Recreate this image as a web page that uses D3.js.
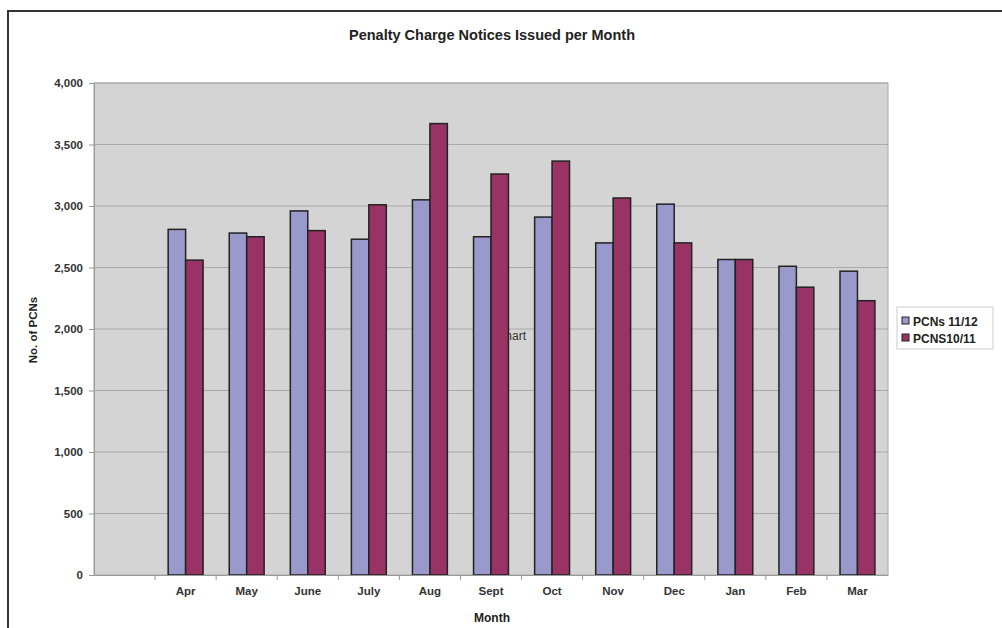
<!DOCTYPE html>
<html>
<head>
<meta charset="utf-8">
<script src="https://cdn.jsdelivr.net/npm/d3@7"></script>
<style>
  body { margin: 0; background: #fff; }
  svg text { font-family: "Liberation Sans", Arial, sans-serif; }
</style>
</head>
<body>
<svg id="chart" width="1002" height="628"></svg>
<script>
// categories (first slot is empty in the original chart)
const months = ['', 'Apr', 'May', 'June', 'July', 'Aug', 'Sept', 'Oct', 'Nov', 'Dec', 'Jan', 'Feb', 'Mar'];
const seriesNames = ['PCNs 11/12', 'PCNS10/11'];
const pcns1112 = [null, 2810, 2780, 2960, 2730, 3050, 2750, 2910, 2700, 3015, 2565, 2510, 2470];
const pcns1011 = [null, 2560, 2750, 2800, 3010, 3670, 3260, 3365, 3065, 2700, 2565, 2340, 2230];
const yTicks = [0, 500, 1000, 1500, 2000, 2500, 3000, 3500, 4000];
const colors = ['#9999cc', '#993366'];

const svg = d3.select('#chart');

// outer frame
svg.append('path')
  .attr('d', 'M8,628 L8,11 L1002,11')
  .attr('fill', 'none')
  .attr('stroke', '#333')
  .attr('stroke-width', 2);

const plotL = 94, plotR = 888, plotT = 83, plotB = 575;

let x = d3.scaleBand().domain(months.map((m, i) => i)).range([plotL, plotR]).paddingInner(0).paddingOuter(0);
let y = d3.scaleLinear().domain([0, 4000]).range([plotB, plotT]);

// plot background
svg.append('rect')
  .attr('x', plotL).attr('y', plotT)
  .attr('width', plotR - plotL).attr('height', plotB - plotT)
  .attr('fill', '#d4d4d4')
  .attr('stroke', '#aaa');

// gridlines
svg.append('g').selectAll('line').data(yTicks.slice(1))
  .enter().append('line')
  .attr('x1', plotL).attr('x2', plotR)
  .attr('y1', d => y(d)).attr('y2', d => y(d))
  .attr('stroke', '#a9a9a9').attr('stroke-width', 1);

// stray "Chart" text partly hidden behind bars
svg.append('text')
  .attr('x', 526).attr('y', 340)
  .attr('text-anchor', 'end')
  .attr('font-size', 12)
  .attr('fill', '#333')
  .text('Chart');

// bars
const barW = x.bandwidth() / 3.5;
const data = [pcns1112, pcns1011];
data.forEach((vals, s) => {
  svg.append('g').selectAll('rect').data(vals.map((v, i) => ({ v, i })).filter(d => d.v != null))
    .enter().append('rect')
    .attr('x', d => x(d.i) + x.bandwidth() / 2 - barW + s * barW)
    .attr('y', d => y(d.v))
    .attr('width', barW)
    .attr('height', d => y(0) - y(d.v))
    .attr('fill', colors[s])
    .attr('stroke', '#222')
    .attr('stroke-width', 1.5);
});

// y axis
const yAxis = svg.append('g')
  .attr('transform', `translate(${plotL},0)`)
  .call(d3.axisLeft(y).tickValues(yTicks).tickSize(5).tickPadding(6).tickFormat(d3.format(',')));
yAxis.select('.domain').attr('stroke', '#999');
yAxis.selectAll('line').attr('stroke', '#999');
yAxis.selectAll('text').attr('font-size', 11.5).attr('font-weight', 'bold').attr('fill', '#333');

// x axis
const xAxis = svg.append('g')
  .attr('transform', `translate(0,${plotB})`)
  .call(d3.axisBottom(x).tickSize(0).tickPadding(12).tickFormat(i => months[i]));
xAxis.select('.domain').attr('stroke', '#999');
xAxis.selectAll('text').attr('font-size', 11.5).attr('font-weight', 'bold').attr('fill', '#333');
// tick marks between categories
svg.append('g').selectAll('line').data(d3.range(1, months.length))
  .enter().append('line')
  .attr('x1', i => x(i)).attr('x2', i => x(i))
  .attr('y1', plotB).attr('y2', plotB + 5)
  .attr('stroke', '#999');

// title and axis labels
svg.append('text')
  .attr('x', 492).attr('y', 40)
  .attr('text-anchor', 'middle')
  .attr('font-size', 14.5).attr('font-weight', 'bold').attr('fill', '#222')
  .text('Penalty Charge Notices Issued per Month');

svg.append('text')
  .attr('x', 492).attr('y', 622)
  .attr('text-anchor', 'middle')
  .attr('font-size', 12).attr('font-weight', 'bold').attr('fill', '#222')
  .text('Month');

svg.append('text')
  .attr('transform', 'translate(37,330) rotate(-90)')
  .attr('text-anchor', 'middle')
  .attr('font-size', 11.5).attr('font-weight', 'bold').attr('fill', '#222')
  .text('No. of PCNs');

// legend
const lg = svg.append('g').attr('transform', 'translate(897,307)');
lg.append('rect')
  .attr('width', 96).attr('height', 42)
  .attr('fill', '#fff').attr('stroke', '#ccc');
const items = lg.selectAll('.legends').data(seriesNames)
  .enter().append('g').classed('legends', true)
  .attr('transform', (d, i) => `translate(5,${8 + i * 17})`);
items.append('rect')
  .attr('width', 7).attr('height', 7)
  .attr('y', 2)
  .attr('fill', (d, i) => colors[i])
  .attr('stroke', '#222');
items.append('text')
  .attr('x', 11).attr('y', 10.5)
  .attr('font-size', 12).attr('font-weight', 'bold').attr('fill', '#222')
  .text(d => d);
</script>
</body>
</html>
